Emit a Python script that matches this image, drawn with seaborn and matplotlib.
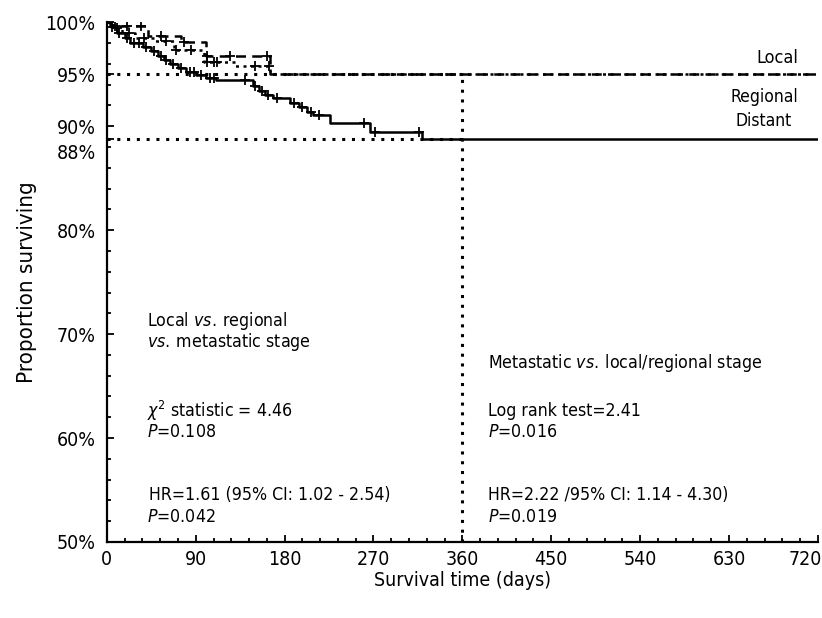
import numpy as np
import pandas as pd
import matplotlib
matplotlib.use("Agg")
import matplotlib.pyplot as plt
import matplotlib.transforms as mtransforms
from matplotlib.ticker import MultipleLocator, FixedLocator, FixedFormatter
import seaborn as sns

# Kaplan-Meier step curves (time of drop in days, survival % after the drop)
local_t = [0, 3, 42, 75, 100, 165, 720]
local_s = [100, 99.6, 98.7, 98.1, 96.8, 95.0, 95.0]
regional_t = [0, 6, 15, 28, 48, 68, 98, 130, 165, 720]
regional_s = [100, 99.4, 99.0, 98.5, 98.2, 97.3, 96.2, 95.8, 95.0, 95.0]
distant_t = [0, 4, 10, 18, 23, 37, 45, 52, 58, 64, 72, 80, 90, 100, 111, 148, 154,
             160, 168, 185, 195, 203, 209, 226, 266, 319, 720]
distant_s = [100, 99.5, 99.0, 98.5, 98.0, 97.6, 97.2, 96.8, 96.4, 96.0, 95.6, 95.2,
             94.9, 94.6, 94.4, 93.9, 93.4, 93.0, 92.7, 92.2, 91.8, 91.4, 91.1, 90.3,
             89.4, 88.8, 88.8]

# censored observations (days)
local_cens = [8, 20, 35, 55, 78, 101, 125, 162]
regional_cens = [10, 22, 38, 60, 70, 85, 101, 108, 112, 150, 164]
distant_cens = [5, 12, 20, 27, 33, 40, 48, 55, 60, 67, 75, 84, 88, 95, 104, 108,
                140, 150, 157, 163, 172, 190, 198, 207, 215, 260, 272, 316]

groups = ["Local", "Regional", "Distant"]
cut_day = 360
local_plateau = 95.0
distant_plateau = 88.8

y_ticks = [50, 60, 70, 80, 88.8, 90, 95, 100]
y_ticklabels = ["50%", "60%", "70%", "80%", "88%", "90%", "95%", "100%"]
x_ticks = [0, 90, 180, 270, 360, 450, 540, 630, 720]


def km_value(t_steps, s_steps, t):
    idx = np.searchsorted(t_steps, t, side="right") - 1
    return s_steps[idx]


curves = pd.concat([
    pd.DataFrame({"time": local_t, "surv": local_s, "group": "Local"}),
    pd.DataFrame({"time": regional_t, "surv": regional_s, "group": "Regional"}),
    pd.DataFrame({"time": distant_t, "surv": distant_s, "group": "Distant"}),
], ignore_index=True)

cens = pd.concat([
    pd.DataFrame({"time": local_cens,
                  "surv": [km_value(local_t, local_s, t) for t in local_cens],
                  "group": "Local"}),
    pd.DataFrame({"time": regional_cens,
                  "surv": [km_value(regional_t, regional_s, t) for t in regional_cens],
                  "group": "Regional"}),
    pd.DataFrame({"time": distant_cens,
                  "surv": [km_value(distant_t, distant_s, t) for t in distant_cens],
                  "group": "Distant"}),
], ignore_index=True)

sns.set_style("ticks")
plt.rcParams["font.family"] = ["DejaVu Sans"]
plt.rcParams["font.stretch"] = "condensed"
plt.rcParams["mathtext.fontset"] = "custom"
plt.rcParams["mathtext.rm"] = "DejaVu Sans:stretch=condensed"
plt.rcParams["mathtext.it"] = "DejaVu Sans:italic:stretch=condensed"
for k in ["text.color", "axes.labelcolor", "xtick.color", "ytick.color", "axes.edgecolor"]:
    plt.rcParams[k] = "black"

fig = plt.figure(figsize=(8.22, 6.18), dpi=100)
ax = fig.add_axes([0.130, 0.123, 0.865, 0.841])

# reference lines
ax.hlines([local_plateau, distant_plateau], 0, cut_day, colors="black",
          linestyles=(0, (1, 2.2)), linewidth=2.2, zorder=1)
ax.vlines(cut_day, 50, local_plateau, colors="black",
          linestyles=(0, (1, 2.2)), linewidth=2.2, zorder=1)

sns.lineplot(data=curves, x="time", y="surv", hue="group", style="group",
             palette={g: "black" for g in groups},
             dashes={"Local": (4, 2.5), "Regional": (1.2, 1.8), "Distant": ""},
             drawstyle="steps-post", estimator=None, sort=False,
             linewidth=1.8, legend=False, ax=ax, zorder=3)

sns.scatterplot(data=cens, x="time", y="surv", color="black", marker="+",
                s=60, linewidth=1.3, legend=False, ax=ax, zorder=4)

ax.set_xlim(0, 720)
ax.set_ylim(50, 100)
ax.xaxis.set_major_locator(FixedLocator(x_ticks))
ax.xaxis.set_minor_locator(MultipleLocator(18))
ax.yaxis.set_major_locator(FixedLocator(y_ticks))
ax.yaxis.set_major_formatter(FixedFormatter(y_ticklabels))
ax.yaxis.set_minor_locator(MultipleLocator(2))
ax.tick_params(axis="both", which="both", direction="in", labelsize=14, width=1.3)
ax.tick_params(which="major", length=5)
ax.tick_params(which="minor", length=3)
ax.tick_params(axis="y", pad=8)
ax.tick_params(axis="x", pad=6)
sns.despine(ax=ax)
for sp in ["left", "bottom"]:
    ax.spines[sp].set_linewidth(1.6)

# shift the 88% label a little below the 90% one, keep 720 inside the figure
fig.canvas.draw()
for lab in ax.get_yticklabels():
    if lab.get_text() == "88%":
        lab.set_transform(lab.get_transform() +
                          mtransforms.ScaledTranslation(0, -9 / 72, fig.dpi_scale_trans))
xlabs = ax.get_xticklabels()
xlabs[-1].set_transform(xlabs[-1].get_transform() +
                        mtransforms.ScaledTranslation(-9 / 72, 0, fig.dpi_scale_trans))

ax.set_xlabel("Survival time (days)", fontsize=14, labelpad=1)
ax.set_ylabel("Proportion surviving", fontsize=16, labelpad=6)

# curve labels
ax.text(700, 96.6, "Local", fontsize=13, ha="right", va="center")
ax.text(700, 92.8, "Regional", fontsize=12.5, ha="right", va="center")
ax.text(694, 90.5, "Distant", fontsize=12.5, ha="right", va="center")

# test annotations
fs = 12.7
sp = "\u2009"
ax.text(41, 71.3, r"Local $\mathit{vs.}$" + sp + "regional", fontsize=fs, va="center")
ax.text(41, 69.2, r"$\mathit{vs.}$" + sp + "metastatic stage", fontsize=fs, va="center")
ax.text(41, 62.6, r"$\chi^{2}$ statistic = 4.46", fontsize=fs, va="center")
ax.text(41, 60.6, r"$\mathit{P}$=0.108", fontsize=fs, va="center")
ax.text(43, 54.5, "HR=1.61 (95% CI: 1.02 - 2.54)", fontsize=fs, va="center")
ax.text(41, 52.4, r"$\mathit{P}$=0.042", fontsize=fs, va="center")

ax.text(386, 67.2, r"Metastatic $\mathit{vs.}$" + sp + "local/regional stage",
        fontsize=fs, va="center")
ax.text(386, 62.6, "Log rank test=2.41", fontsize=fs, va="center")
ax.text(386, 60.6, r"$\mathit{P}$=0.016", fontsize=fs, va="center")
ax.text(386, 54.5, "HR=2.22 /95% CI: 1.14 - 4.30)", fontsize=fs, va="center")
ax.text(386, 52.4, r"$\mathit{P}$=0.019", fontsize=fs, va="center")

fig.savefig("out.png", dpi=100)
